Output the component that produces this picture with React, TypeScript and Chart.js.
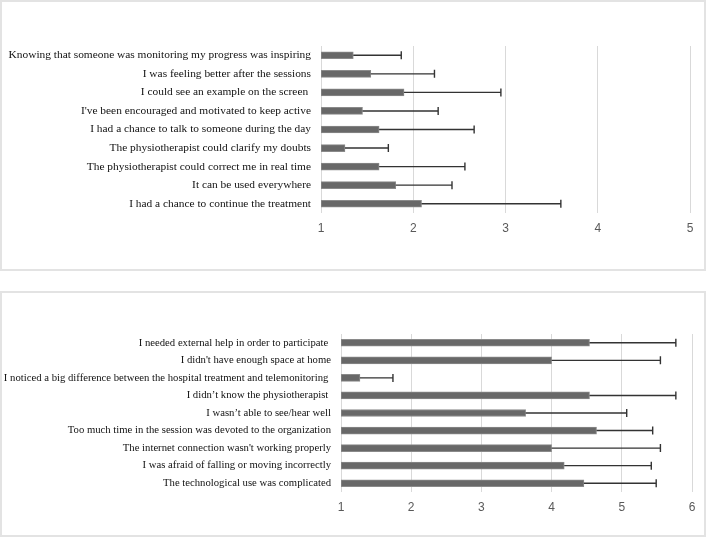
import React, { useEffect, useRef } from "react";
import { Chart, registerables } from "chart.js";

Chart.register(...registerables);

const topCategories = [
  "Knowing that someone was monitoring my progress was inspiring",
  "I was feeling better after the sessions",
  "I could see an example on the screen ",
  "I've been encouraged and motivated to keep active",
  "I had a chance to talk to someone during the day",
  "The physiotherapist could clarify my doubts",
  "The physiotherapist could correct me in real time",
  "It can be used everywhere",
  "I had a chance to continue the treatment",
];
const topMeans = [1.35, 1.54, 1.9, 1.45, 1.63, 1.26, 1.63, 1.81, 2.09];
const topErrors = [0.52, 0.69, 1.05, 0.82, 1.03, 0.47, 0.93, 0.61, 1.51];
const topTicks = [1, 2, 3, 4, 5];

const bottomCategories = [
  "I needed external help in order to participate ",
  "I didn't have enough space at home",
  "I noticed a big difference between the hospital treatment and telemonitoring ",
  "I didn\u2019t know the physiotherapist ",
  "I wasn\u2019t able to see/hear well",
  "Too much time in the session was devoted to the organization",
  "The internet connection wasn't working properly",
  "I was afraid of falling or moving incorrectly",
  "The technological use was complicated",
];
const bottomMeans = [4.54, 4.0, 1.27, 4.54, 3.63, 4.64, 4.0, 4.18, 4.46];
const bottomErrors = [1.23, 1.55, 0.47, 1.23, 1.44, 0.8, 1.55, 1.24, 1.03];
const bottomTicks = [1, 2, 3, 4, 5, 6];

type PanelProps = {
  categories: string[];
  means: number[];
  errors: number[];
  ticks: number[];
  width: number;
  height: number;
  areaLeft: number;
  areaRight: number;
  areaTop: number;
  areaBottom: number;
  labelSize: number;
  barThickness: number;
};

const errorBarPlugin = {
  id: "errorBars",
  afterDatasetsDraw(chart: any) {
    const ds = chart.data.datasets[0];
    const errs: number[] = ds.errors || [];
    const means: number[] = ds.means || [];
    const meta = chart.getDatasetMeta(0);
    const xScale = chart.scales.x;
    const ctx = chart.ctx;
    const cap = ds.capSize || 7;
    ctx.save();
    ctx.strokeStyle = "#333333";
    ctx.lineWidth = 1.4;
    meta.data.forEach((bar: any, i: number) => {
      const x0 = xScale.getPixelForValue(means[i]);
      const x1 = xScale.getPixelForValue(means[i] + errs[i]);
      const y = bar.y;
      ctx.beginPath();
      ctx.moveTo(x0, y);
      ctx.lineTo(x1, y);
      ctx.moveTo(x1, y - cap / 2);
      ctx.lineTo(x1, y + cap / 2);
      ctx.stroke();
    });
    ctx.restore();
  },
};

function Panel(p: PanelProps) {
  const ref = useRef<HTMLCanvasElement | null>(null);
  useEffect(() => {
    if (!ref.current) return;
    const min = p.ticks[0];
    const max = p.ticks[p.ticks.length - 1];
    const chart = new Chart(ref.current, {
      type: "bar",
      data: {
        labels: p.categories,
        datasets: [
          {
            data: p.means.map((m) => [min, m]) as any,
            backgroundColor: "#686868",
            borderColor: "#8a8a8a",
            borderWidth: 1,
            borderSkipped: false,
            barThickness: p.barThickness,
            ...({ errors: p.errors, means: p.means, capSize: p.barThickness + 1 } as any),
          } as any,
        ],
      },
      options: {
        indexAxis: "y",
        animation: false,
        responsive: false,
        maintainAspectRatio: false,
        layout: {
          padding: {
            left: 0,
            top: p.areaTop,
            right: p.width - p.areaRight,
            bottom: 0,
          },
        },
        plugins: {
          legend: { display: false },
          tooltip: { enabled: false },
        },
        scales: {
          x: {
            type: "linear",
            min,
            max,
            afterFit: (scale: any) => {
              scale.height = p.height - p.areaBottom;
            },
            afterBuildTicks: (scale: any) => {
              scale.ticks = p.ticks.map((v) => ({ value: v }));
            },
            grid: {
              display: true,
              color: "#d9d9d9",
              lineWidth: 1,
              drawTicks: false,
            },
            border: { display: false },
            ticks: {
              padding: 8,
              color: "#595959",
              font: { family: "'Liberation Sans', Arial, sans-serif", size: 12 },
            },
          },
          y: {
            afterFit: (scale: any) => {
              scale.width = p.areaLeft;
            },
            grid: { display: false, drawTicks: false },
            border: { display: false },
            ticks: {
              padding: 10,
              color: "#111111",
              autoSkip: false,
              font: { family: "'Liberation Serif', 'Times New Roman', serif", size: p.labelSize },
            },
          },
        },
      },
      plugins: [errorBarPlugin],
    });
    return () => chart.destroy();
  }, []);
  return <canvas ref={ref} width={p.width} height={p.height} style={{ width: p.width, height: p.height, display: "block" }} />;
}

export default function App() {
  return (
    <div style={{ position: "fixed", left: 0, top: 0, width: 707, height: 540, background: "#ffffff" }}>
      <div style={{ position: "absolute", left: 0, top: 0, width: 706, height: 271 }}>
        <Panel
          categories={topCategories}
          means={topMeans}
          errors={topErrors}
          ticks={topTicks}
          width={706}
          height={271}
          areaLeft={321}
          areaRight={690}
          areaTop={46}
          areaBottom={213}
          labelSize={11.4}
          barThickness={7}
        />
        <div style={{ position: "absolute", left: 0, top: 0, width: 706, height: 271, boxSizing: "border-box", border: "2px solid #e3e3e3", pointerEvents: "none" }} />
      </div>
      <div style={{ position: "absolute", left: 0, top: 291, width: 706, height: 246 }}>
        <Panel
          categories={bottomCategories}
          means={bottomMeans}
          errors={bottomErrors}
          ticks={bottomTicks}
          width={706}
          height={246}
          areaLeft={341}
          areaRight={692}
          areaTop={43}
          areaBottom={201}
          labelSize={10.7}
          barThickness={7}
        />
        <div style={{ position: "absolute", left: 0, top: 0, width: 706, height: 246, boxSizing: "border-box", border: "2px solid #e3e3e3", pointerEvents: "none" }} />
      </div>
    </div>
  );
}
